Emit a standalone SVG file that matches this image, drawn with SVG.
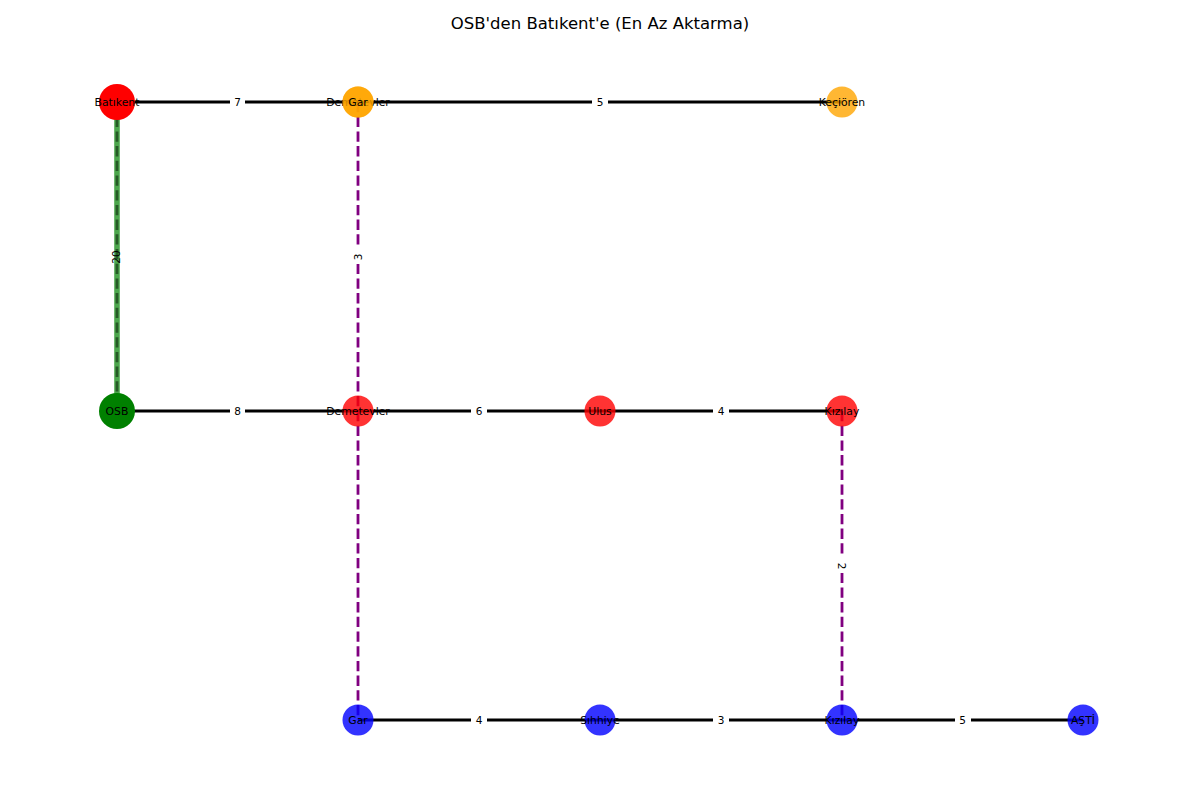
<svg xmlns="http://www.w3.org/2000/svg" width="1200" height="800" viewBox="0 0 1200 800">
<style>
.e{stroke:#000;stroke-width:2.8;fill:none}
.t{stroke:#800080;stroke-width:2.8;stroke-dasharray:10.3 4.4;fill:none}
.p{stroke:#008000;stroke-width:5.6;stroke-opacity:0.7;fill:none}
.lb{fill:#fff}
.el{font-family:"DejaVu Sans",sans-serif;font-size:10.5px;fill:#000;text-anchor:middle;dominant-baseline:central}
.nl{font-family:"DejaVu Sans",sans-serif;font-size:10.8px;fill:#000;text-anchor:middle;dominant-baseline:central}
.title{font-family:"DejaVu Sans",sans-serif;font-size:16.5px;fill:#000;text-anchor:middle}
</style>
<rect width="1200" height="800" fill="#fff"/>
<text class="title" x="600" y="29">OSB'den Batıkent'e (En Az Aktarma)</text>
<g id="connectors">
<line class="e" x1="117" y1="102" x2="358" y2="102"/>
<line class="e" x1="358" y1="102" x2="842" y2="102"/>
<line class="e" x1="117" y1="411" x2="358" y2="411"/>
<line class="e" x1="358" y1="411" x2="600" y2="411"/>
<line class="e" x1="600" y1="411" x2="842" y2="411"/>
<line class="e" x1="358" y1="720" x2="600" y2="720"/>
<line class="e" x1="600" y1="720" x2="842" y2="720"/>
<line class="e" x1="842" y1="720" x2="1083" y2="720"/>
<line class="t" x1="117" y1="102" x2="117" y2="411"/>
<line class="t" x1="358" y1="102" x2="358" y2="411"/>
<line class="t" x1="358" y1="411" x2="358" y2="720"/>
<line class="t" x1="842" y1="411" x2="842" y2="720"/>
<line class="p" x1="117" y1="102" x2="117" y2="411"/>
<g id="edge-labels">
<rect class="lb" x="230" y="95" width="15" height="14"/><text class="el" x="237.5" y="102">7</text>
<rect class="lb" x="592" y="95" width="16" height="14"/><text class="el" x="600" y="102">5</text>
<rect class="lb" x="230" y="404" width="15" height="14"/><text class="el" x="237.5" y="411">8</text>
<rect class="lb" x="471" y="404" width="16" height="14"/><text class="el" x="479" y="411">6</text>
<rect class="lb" x="713" y="404" width="16" height="14"/><text class="el" x="721" y="411">4</text>
<rect class="lb" x="471" y="713" width="16" height="14"/><text class="el" x="479" y="720">4</text>
<rect class="lb" x="713" y="713" width="16" height="14"/><text class="el" x="721" y="720">3</text>
<rect class="lb" x="955" y="713" width="16" height="14"/><text class="el" x="962.5" y="720">5</text>
<text class="el" x="116" y="257" transform="rotate(-90 116 257)">20</text>
<rect class="lb" x="351" y="249" width="14" height="15"/><text class="el" x="358" y="257" transform="rotate(-90 358 257)">3</text>
<rect class="lb" x="835" y="558" width="14" height="15"/><text class="el" x="842" y="566" transform="rotate(90 842 566)">2</text>
</g>
</g>
<g id="node-batikent"><circle cx="117" cy="102" r="18" fill="#ff0000"/><text class="nl" x="117" y="102">Batıkent</text></g>
<g id="node-demetevler-top"><circle cx="358" cy="102" r="15.5" fill="#ffa500" fill-opacity="0.8"/><text class="nl" x="358" y="102">Demetevler</text></g>
<g id="node-gar-top"><circle cx="358" cy="102" r="15.5" fill="#ffa500" fill-opacity="0.8"/><text class="nl" x="358" y="102">Gar</text></g>
<g id="node-kecioren"><circle cx="842" cy="102" r="15.5" fill="#ffa500" fill-opacity="0.8"/><text class="nl" x="842" y="102">Keçiören</text></g>
<g id="node-osb"><circle cx="117" cy="411" r="18" fill="#008000"/><text class="nl" x="117" y="411">OSB</text></g>
<g id="node-demetevler"><circle cx="358" cy="411" r="15.5" fill="#ff0000" fill-opacity="0.8"/><text class="nl" x="358" y="411">Demetevler</text></g>
<g id="node-ulus"><circle cx="600" cy="411" r="15.5" fill="#ff0000" fill-opacity="0.8"/><text class="nl" x="600" y="411">Ulus</text></g>
<g id="node-kizilay-red"><circle cx="842" cy="411" r="15.5" fill="#ff0000" fill-opacity="0.8"/><text class="nl" x="842" y="411">Kızılay</text></g>
<g id="node-gar"><circle cx="358" cy="720" r="15.5" fill="#0000ff" fill-opacity="0.8"/><text class="nl" x="358" y="720">Gar</text></g>
<g id="node-sihhiye"><circle cx="600" cy="720" r="15.5" fill="#0000ff" fill-opacity="0.8"/><text class="nl" x="600" y="720">Sıhhiye</text></g>
<g id="node-kizilay-blue"><circle cx="842" cy="720" r="15.5" fill="#0000ff" fill-opacity="0.8"/><text class="nl" x="842" y="720">Kızılay</text></g>
<g id="node-asti"><circle cx="1083" cy="720" r="15.5" fill="#0000ff" fill-opacity="0.8"/><text class="nl" x="1083" y="720">AŞTİ</text></g>
</svg>
